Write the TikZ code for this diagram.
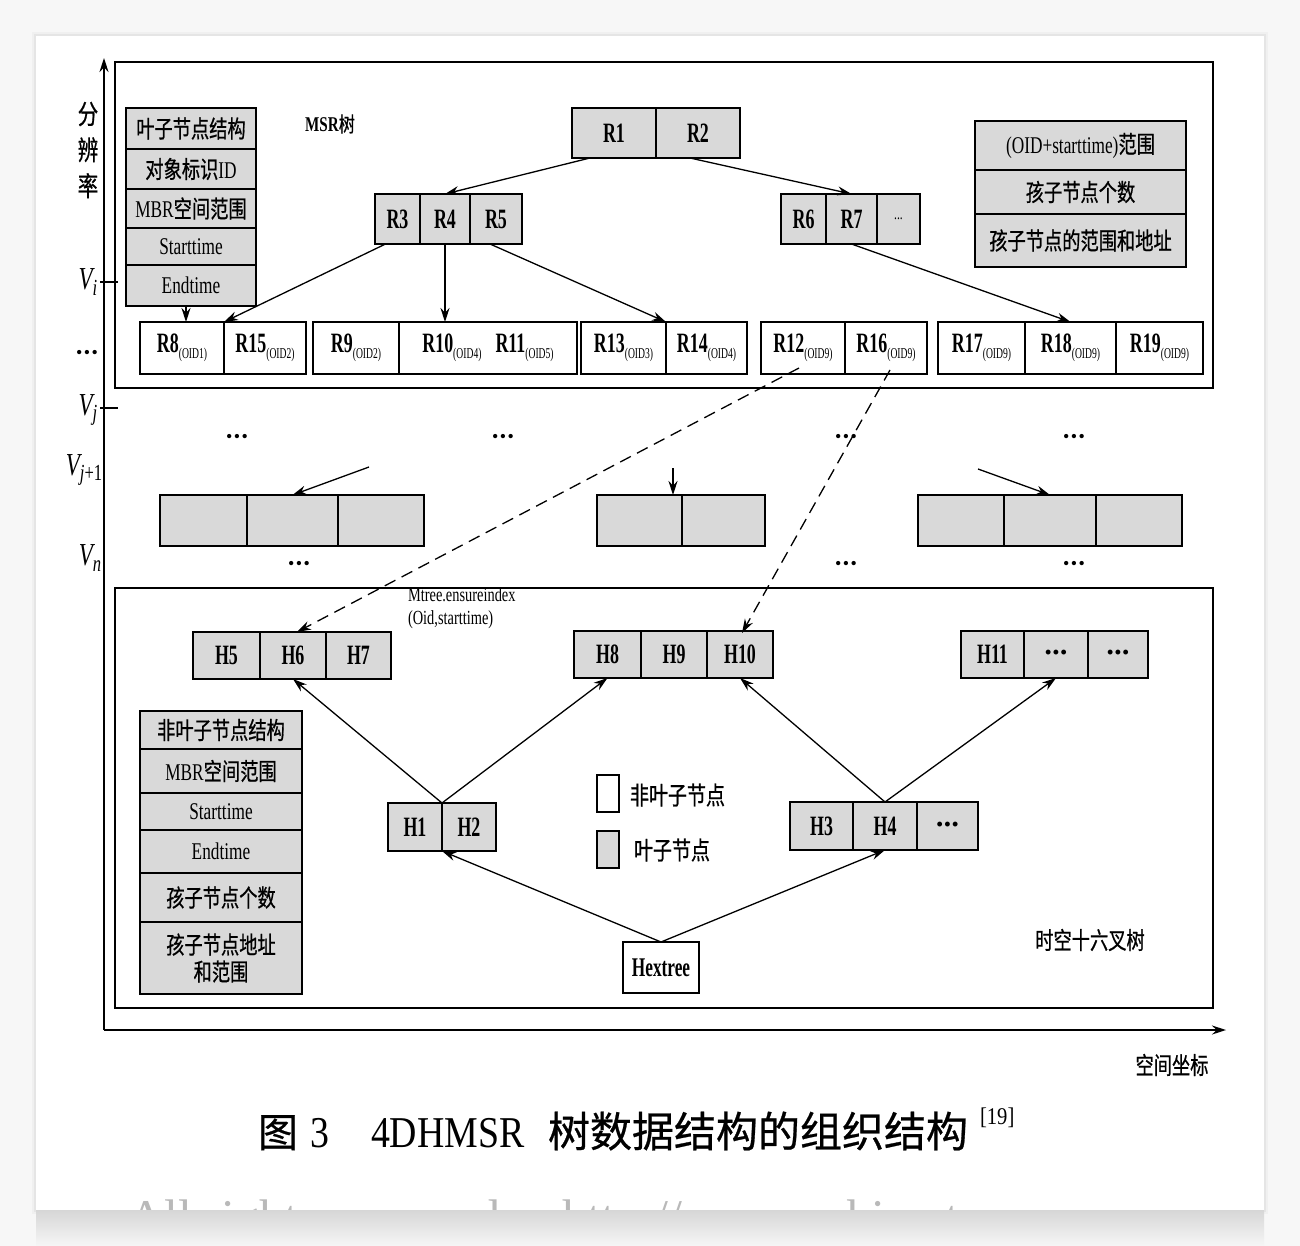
\documentclass[tikz,border=0pt]{standalone}
\usepackage{fontspec}
\setmainfont{Liberation Serif}[FakeStretch=0.72]
\newfontfamily\cjk{Noto Sans CJK SC}[FakeStretch=0.76, FakeBold=0.7]
\newfontfamily\cjkn{Noto Sans CJK SC}[FakeBold=0.6]
\newfontfamily\capserif{Liberation Serif}[FakeStretch=0.86]
\newfontfamily\wmserif{Liberation Serif}
\newfontfamily\labfont{Liberation Serif}[FakeStretch=0.64]
\usetikzlibrary{arrows.meta}
\definecolor{cellgray}{HTML}{D9D9D9}
\newcommand\fs[1]{\fontsize{#1}{#1}\selectfont}
\newcommand\zh[1]{{\cjk #1}}
\newcommand\rsub[2]{{\labfont\bfseries #1}\raisebox{-0.45ex}{\labfont\fs{15}\mdseries(#2)}}
\newcommand\bdots{{\wmserif\fs{18}\textbullet\kern1.5pt\textbullet\kern1.5pt\textbullet}}
\newcommand\cellbox[7][]{\node[cell,#1,minimum width={(#5-#3)*1pt},minimum height={(#6-#4)*1pt}] (#2) at ({(#3+#5)/2},{-(#4+#6)/2}) {#7};}
\tikzset{
  cell/.style={draw, line width=1.3pt, fill=cellgray, inner sep=0pt, outer sep=0pt, font=\labfont\fs{28}\bfseries},
  wcell/.style={fill=white},
  tcell/.style={font=\fs{24}},
  framebox/.style={fill=none, line width=1.5pt},
  arr/.style={-{Stealth[length=14pt,width=9pt]}, line width=1.3pt},
  darr/.style={arr, dash pattern=on 12pt off 7pt},
  lbl/.style={inner sep=0pt, outer sep=0pt},
}
\begin{document}
\begin{tikzpicture}[x=1pt,y=1pt]
\useasboundingbox (0,0) rectangle (1300,-1246);
% page background and card
\fill[gray!6] (0,0) rectangle (1300,-1246);
\fill[gray!12] (32,-32) rectangle (1268,-1214);
\fill[gray!20] (34,-34) rectangle (1266,-1212);
\fill[white] (36,-36) rectangle (1264,-1210);
\begin{scope}
\clip (36,-1180) rectangle (1264,-1210);
\node[lbl, anchor=base west, text=gray!55, font=\wmserif\fs{50}] (wm) at (128,-1234) {All rights reserved.\quad http://www.cnki.net};
\end{scope}
\shade[top color=gray!32, bottom color=gray!7] (36,-1210) rectangle (1264,-1246);

% axes
\coordinate (origin) at (104,-1030);
\coordinate (ytop) at (104,-58);
\coordinate (xend) at (1226,-1030);
\draw[arr, line width=1.5pt] (origin) -- (ytop);
\draw[arr, line width=1.5pt] (origin) -- (xend);
\draw[line width=1.2pt] (100,-282) -- (118,-282);
\draw[line width=1.2pt] (100,-408) -- (118,-408);
\node[lbl, align=center, font=\cjk\fontsize{27}{36}\selectfont] (fbl) at (88,-150) {分\\辨\\率};
\node[lbl, font=\fs{32}\itshape] (vi) at (88,-282) {V\raisebox{-0.4ex}{\fs{23}i}};
\node[lbl] (vdots) at (87,-354) {\bdots};
\node[lbl, font=\fs{32}\itshape] (vj) at (88,-410) {V\raisebox{-0.4ex}{\fs{23}j}};
\node[lbl, font=\fs{32}\itshape] (vj1) at (84,-470) {V\raisebox{-0.4ex}{\fs{23}j\upshape+1}};
\node[lbl, font=\fs{32}\itshape] (vn) at (90,-558) {V\raisebox{-0.4ex}{\fs{23}n}};
\node[lbl, font=\cjk\fs{24}] (kjzb) at (1172,-1065) {空间坐标};

% MSR frame
\cellbox[framebox]{msr}{115}{62}{1213}{388}{}
\node[lbl, font=\fs{21}] (msrlbl) at (330,-124) {\textbf{MSR}\zh{树}};

% leaf structure table
\cellbox[tcell]{lt1}{126}{108}{256}{149}{\zh{叶子节点结构}}
\cellbox[tcell]{lt2}{126}{149}{256}{189}{\zh{对象标识}ID}
\cellbox[tcell]{lt3}{126}{189}{256}{228}{MBR\zh{空间范围}}
\cellbox[tcell]{lt4}{126}{228}{256}{265}{Starttime}
\cellbox[tcell]{lt5}{126}{265}{256}{306}{Endtime}

% top-right table
\cellbox[tcell]{tr1}{975}{121}{1186}{170}{(OID+starttime)\zh{范围}}
\cellbox[tcell]{tr2}{975}{170}{1186}{214}{\zh{孩子节点个数}}
\cellbox[tcell]{tr3}{975}{214}{1186}{267}{\zh{孩子节点的范围和地址}}

% MSR nodes
\cellbox{r1}{572}{108}{656}{158}{R1}
\cellbox{r2}{656}{108}{740}{158}{R2}
\cellbox{r3}{375}{194}{420}{244}{R3}
\cellbox{r4}{420}{194}{470}{244}{R4}
\cellbox{r5}{470}{194}{522}{244}{R5}
\cellbox{r6}{781}{194}{826}{244}{R6}
\cellbox{r7}{826}{194}{877}{244}{R7}
\cellbox[font=\fs{16}]{r6x}{877}{194}{920}{244}{...}

% leaf row
\cellbox[wcell]{r8}{140}{322}{224}{374}{\rsub{R8}{OID1}}
\cellbox[wcell]{r15}{224}{322}{306}{374}{\rsub{R15}{OID2}}
\cellbox[wcell]{r9}{313}{322}{399}{374}{\rsub{R9}{OID2}}
\cellbox[wcell]{r10}{399}{322}{577}{374}{\raisebox{-4pt}{\rsub{R10}{OID4}\hspace{14pt}\rsub{R11}{OID5}}}
\cellbox[wcell]{r13}{581}{322}{666}{374}{\rsub{R13}{OID3}}
\cellbox[wcell]{r14}{666}{322}{747}{374}{\rsub{R14}{OID4}}
\cellbox[wcell]{r12}{761}{322}{845}{374}{\rsub{R12}{OID9}}
\cellbox[wcell]{r16}{845}{322}{927}{374}{\rsub{R16}{OID9}}
\cellbox[wcell]{r17}{938}{322}{1025}{374}{\rsub{R17}{OID9}}
\cellbox[wcell]{r18}{1025}{322}{1116}{374}{\raisebox{-3pt}{\rsub{R18}{OID9}}}
\cellbox[wcell]{r19}{1116}{322}{1203}{374}{\rsub{R19}{OID9}}

% MSR arrows
\draw[arr] ([xshift=-24pt]r1.south) -- (r4.north);
\draw[arr] ([xshift=-8pt]r2.south) -- (r7.north);
\draw[arr] ([xshift=-12pt]r3.south) -- (r15.north west);
\draw[arr] (r4.south) -- (r4.south |- r10.north);
\draw[arr] ([xshift=-6pt]r5.south) -- (r13.north east);
\draw[arr] (r7.south) -- (r18.north);
\draw[arr] ([xshift=-5pt]lt5.south) -- ([xshift=-5pt]lt5.south |- r8.north);

% intermediate levels
\node[lbl] (d1) at (237,-438) {\bdots};
\node[lbl] (d2) at (503,-438) {\bdots};
\node[lbl] (d3) at (846,-438) {\bdots};
\node[lbl] (d4) at (1074,-438) {\bdots};
\node[lbl] (d5) at (299,-565) {\bdots};
\node[lbl] (d6) at (846,-565) {\bdots};
\node[lbl] (d7) at (1074,-565) {\bdots};
\cellbox{m1a}{160}{495}{247}{546}{}
\cellbox{m1b}{247}{495}{338}{546}{}
\cellbox{m1c}{338}{495}{424}{546}{}
\cellbox{m2a}{597}{495}{682}{546}{}
\cellbox{m2b}{682}{495}{765}{546}{}
\cellbox{m3a}{918}{495}{1004}{546}{}
\cellbox{m3b}{1004}{495}{1096}{546}{}
\cellbox{m3c}{1096}{495}{1182}{546}{}
\coordinate (s1) at (369,-467);
\coordinate (s2) at (673,-468);
\coordinate (s3) at (978,-469);
\draw[arr] (s1) -- (m1b.north);
\draw[arr] (s2) -- (s2 |- m2a.north);
\draw[arr] (s3) -- (m3b.north);

% Hextree frame
\cellbox[framebox]{hexf}{115}{588}{1213}{1008}{}
\node[lbl, anchor=north west, align=left, font=\fontsize{20}{23}\selectfont] (mtree) at (408,-588) {Mtree.ensureindex\\(Oid,starttime)};

\cellbox{h5}{193}{632}{260}{679}{H5}
\cellbox{h6}{260}{632}{326}{679}{H6}
\cellbox{h7}{326}{632}{391}{679}{H7}
\cellbox{h8}{574}{631}{641}{678}{H8}
\cellbox{h9}{641}{631}{707}{678}{H9}
\cellbox{h10}{707}{631}{773}{678}{H10}
\cellbox{h11}{961}{631}{1024}{678}{H11}
\cellbox{h11b}{1024}{631}{1088}{678}{\bdots}
\cellbox{h11c}{1088}{631}{1148}{678}{\bdots}
\cellbox{h1}{388}{803}{442}{851}{H1}
\cellbox{h2}{442}{803}{496}{851}{H2}
\cellbox{h3}{790}{802}{853}{850}{H3}
\cellbox{h4}{853}{802}{917}{850}{H4}
\cellbox{h4x}{917}{802}{978}{850}{\bdots}
\cellbox[wcell, font=\labfont\fs{27}\bfseries]{hex}{623}{942}{699}{993}{Hextree}

% non-leaf table
\cellbox[tcell]{nt1}{140}{711}{302}{749}{\zh{非叶子节点结构}}
\cellbox[tcell]{nt2}{140}{749}{302}{793}{MBR\zh{空间范围}}
\cellbox[tcell]{nt3}{140}{793}{302}{830}{Starttime}
\cellbox[tcell]{nt4}{140}{830}{302}{873}{Endtime}
\cellbox[tcell]{nt5}{140}{873}{302}{922}{\zh{孩子节点个数}}
\cellbox[tcell, align=center]{nt6}{140}{922}{302}{994}{\zh{孩子节点地址}\\[3pt]\zh{和范围}}

% legend
\cellbox[wcell]{lw}{597}{775}{619}{812}{}
\cellbox{lg}{597}{831}{619}{868}{}
\node[lbl, anchor=west, font=\cjk\fs{25}] (lwt) at (630,-795) {非叶子节点};
\node[lbl, anchor=west, font=\cjk\fs{25}] (lgt) at (634,-850) {叶子节点};
\node[lbl, font=\cjk\fs{24}] (sklbl) at (1090,-940) {时空十六叉树};

% Hextree arrows
\draw[arr] (h1.north east) -- (h6.south);
\draw[arr] (h1.north east) -- (h8.south);
\draw[arr] (h4.north) -- (h10.south);
\draw[arr] (h4.north) -- (h11b.south);
\draw[arr] (hex.north) -- (h1.south east);
\draw[arr] (hex.north) -- (h4.south);

% dashed links
\draw[darr] ([xshift=-4pt,yshift=6pt]r12.south) -- ([xshift=4pt]h6.north);
\draw[darr] ([xshift=4pt,yshift=4pt]r16.south) -- ([xshift=2pt,yshift=-2pt]h10.north);

% caption
\node[lbl, anchor=base west, font=\cjkn\fs{40}] (cap1) at (258,-1147) {图};
\node[lbl, anchor=base west, font=\capserif\fs{44}] (cap2) at (310,-1147) {3};
\node[lbl, anchor=base west, font=\capserif\fs{44}] (cap3) at (371,-1147) {4DHMSR};
\node[lbl, anchor=base west, font=\cjkn\fs{42}] (cap4) at (548,-1147) {树数据结构的组织结构};
\node[lbl, anchor=base west, font=\capserif\fs{24}] (cap5) at (980,-1124) {[19]};
\end{tikzpicture}
\end{document}
